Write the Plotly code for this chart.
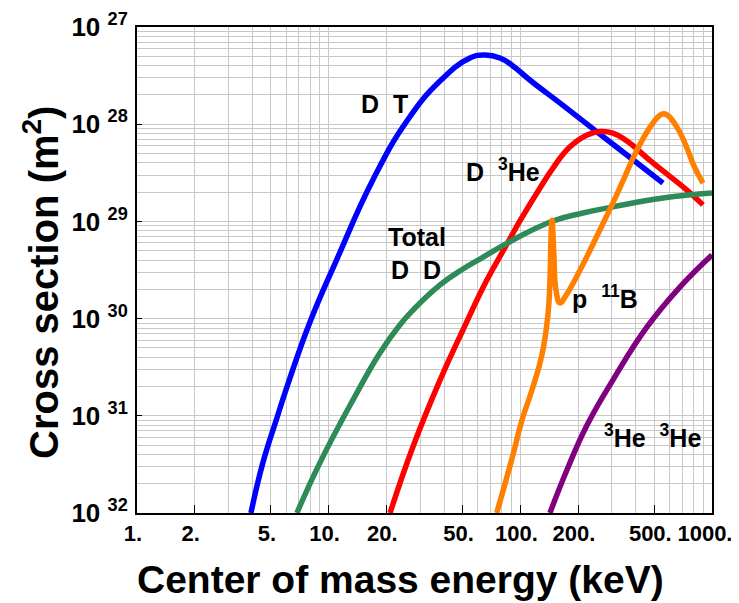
import plotly.graph_objects as go

# ---------------- data ----------------
dt_energy = [3.93, 4.54, 5.37, 6.06, 7.99, 11.05, 17.0, 25.6, 38.1, 54.6, 65.4, 78.3, 91.5, 112, 167, 251, 387, 555]
dt_sigma = [1.0e-32, 3.3e-32, 9.5e-32, 1.98e-31, 9.23e-31, 4.1e-30, 2.67e-29, 1.08e-28, 2.78e-28, 4.80e-28,
            5.15e-28, 4.80e-28, 3.97e-28, 2.85e-28, 1.56e-28, 8.34e-29, 4.31e-29, 2.48e-29]

dhe3_energy = [20.9, 27.5, 38.1, 50.2, 66.9, 85.2, 99.5, 122, 148, 181, 223, 260, 304, 360, 492, 740, 897]
dhe3_sigma = [1.0e-32, 4.78e-32, 2.33e-31, 7.64e-31, 2.49e-30, 5.85e-30, 1.01e-29, 1.96e-29, 3.54e-29, 5.82e-29,
              7.74e-29, 8.41e-29, 8.11e-29, 6.71e-29, 3.99e-29, 2.1e-29, 1.48e-29]

dd_energy = [6.83, 9.01, 13.4, 18.5, 23.5, 27.5, 38.1, 50.2, 61.5, 91.5, 148, 212, 304, 555, 1000]
dd_sigma = [1.0e-32, 3.3e-32, 1.46e-31, 4.43e-31, 8.6e-31, 1.22e-30, 2.22e-30, 3.24e-30, 4.1e-30, 6.44e-30,
            1.01e-29, 1.22e-29, 1.41e-29, 1.74e-29, 1.96e-29]

pb_energy = [75.3, 91.5, 102, 115, 129.6, 139.3, 142.7, 144.4, 146.2, 149.7, 153.4, 161, 171, 205, 251, 304,
             343, 406, 492, 548, 582, 656, 740, 805, 897]
pb_sigma = [1.0e-32, 3.95e-32, 9.06e-32, 1.84e-31, 4.23e-31, 1.09e-30, 2.49e-30, 6.46e-30, 1.03e-29, 4.5e-30,
            1.97e-30, 1.45e-30, 1.67e-30, 3.16e-30, 7.08e-30, 1.55e-29, 2.61e-29, 5.43e-29, 1.03e-28, 1.27e-28,
            1.245e-28, 9.33e-29, 5.69e-29, 3.72e-29, 2.48e-29]

hehe_energy = [142.7, 175, 223, 304, 458, 680, 1000]
hehe_sigma = [1.0e-32, 2.77e-32, 8.04e-32, 2.33e-31, 8.2e-31, 2.11e-30, 4.51e-30]

x_tick_values = [1, 2, 5, 10, 20, 50, 100, 200, 500, 1000]
x_tick_labels = ["1.", "2.", "5.", "10.", "20.", "50.", "100.", "200.", "500.", "1000."]
y_tick_values = [1e-27, 1e-28, 1e-29, 1e-30, 1e-31, 1e-32]
y_tick_exponents = ["27", "28", "29", "30", "31", "32"]

# ---------------- styling ----------------
OFF = 8                      # page body margin of the html page
W, H = 739 - OFF, 603 - OFF
PL, PR, PT, PB = 137, 712, 27, 513   # plot box in page pixels
L, T = PL - OFF, PT - OFF
R, B = W - (PR - OFF), H - (PB - OFF)
FONT = "Liberation Sans, Arial, Helvetica, sans-serif"
NB = "\u00a0"


def px(xp, yp):
    return (xp - PL) / (PR - PL), (PB - yp) / (PB - PT)


fig = go.Figure()
series = [
    (dt_energy, dt_sigma, "#0000FF"),
    (dhe3_energy, dhe3_sigma, "#FF0000"),
    (dd_energy, dd_sigma, "#2E8B57"),
    (pb_energy, pb_sigma, "#FF8000"),
    (hehe_energy, hehe_sigma, "#800080"),
]
for xs, ys, col in series:
    fig.add_trace(go.Scatter(x=xs, y=ys, mode="lines",
                             line=dict(color=col, width=5.5, shape="spline", smoothing=1.3),
                             showlegend=False, hoverinfo="skip"))
# empty trace that carries the label-only y axis
fig.add_trace(go.Scatter(x=[], y=[], yaxis="y2", showlegend=False, hoverinfo="skip"))

grid = "#c8c8c8"
x_labels = [t + NB if t == "1000." else t for t in x_tick_labels]
fig.update_xaxes(type="log", range=[0, 3], tickvals=x_tick_values, ticktext=x_labels,
                 showgrid=True, gridcolor=grid, gridwidth=1,
                 minor=dict(dtick="D1", showgrid=True, gridcolor=grid, gridwidth=1, ticks=""),
                 ticks="inside", ticklen=8, tickcolor="black", tickwidth=1,
                 showline=True, linecolor="black", linewidth=1.5, mirror=True,
                 tickfont=dict(family=FONT, size=22, color="black", weight="bold"),
                 ticklabeloverflow="allow", ticklabelshift=-4,
                 automargin=False, zeroline=False)
fig.update_layout(
    yaxis=dict(type="log", range=[-32, -27], tickvals=y_tick_values, showticklabels=False,
               showgrid=True, gridcolor=grid, gridwidth=1,
               minor=dict(dtick="D1", showgrid=True, gridcolor=grid, gridwidth=1, ticks=""),
               ticks="inside", ticklen=5, tickcolor="black", tickwidth=1,
               showline=True, linecolor="black", linewidth=1.5, mirror=True,
               automargin=False, zeroline=False),
    yaxis2=dict(type="log", range=[-32, -27], overlaying="y", anchor="free", side="left",
                position=0, tickvals=y_tick_values,
                ticktext=["<b>10" + NB + "<sup>" + e + "</sup></b>" for e in y_tick_exponents],
                showgrid=False, showline=False, ticks="outside", ticklen=4,
                tickcolor="rgba(0,0,0,0)", zeroline=False,
                tickfont=dict(family=FONT, size=26, color="black", weight="bold"),
                ticklabeloverflow="allow", automargin=False),
)

labels = [
    ("D" + NB * 2 + "T", 384, 104),
    ("D" + NB * 2 + "<sup>3</sup>He", 503, 170),
    ("Total", 417, 237),
    ("D" + NB * 2 + "D", 416, 270),
    ("p" + NB * 2 + "<sup>11</sup>B", 605, 297),
    ("<sup>3</sup>He" + NB * 2 + "<sup>3</sup>He", 652, 436),
]
for txt, xp_, yp_ in labels:
    ax_, ay_ = px(xp_, yp_)
    fig.add_annotation(text=txt, x=ax_, y=ay_, xref="paper", yref="paper", showarrow=False,
                       xanchor="center", yanchor="middle",
                       font=dict(family=FONT, size=25, color="black", weight="bold"))

tx, ty = px(400, 579)
fig.add_annotation(text="Center of mass energy (keV)", x=tx, y=ty, xref="paper", yref="paper",
                   showarrow=False, xanchor="center", yanchor="middle",
                   font=dict(family=FONT, size=39, color="black", weight="bold"))
tx, ty = px(41, 283)
fig.add_annotation(text="Cross section (m<sup>2</sup>)", x=tx, y=ty, xref="paper", yref="paper",
                   showarrow=False, xanchor="center", yanchor="middle", textangle=-90,
                   font=dict(family=FONT, size=40, color="black", weight="bold"))

fig.update_layout(width=W, height=H, margin=dict(l=L, r=R, t=T, b=B, pad=0),
                  paper_bgcolor="white", plot_bgcolor="white", showlegend=False)

fig.write_html("out.html")
